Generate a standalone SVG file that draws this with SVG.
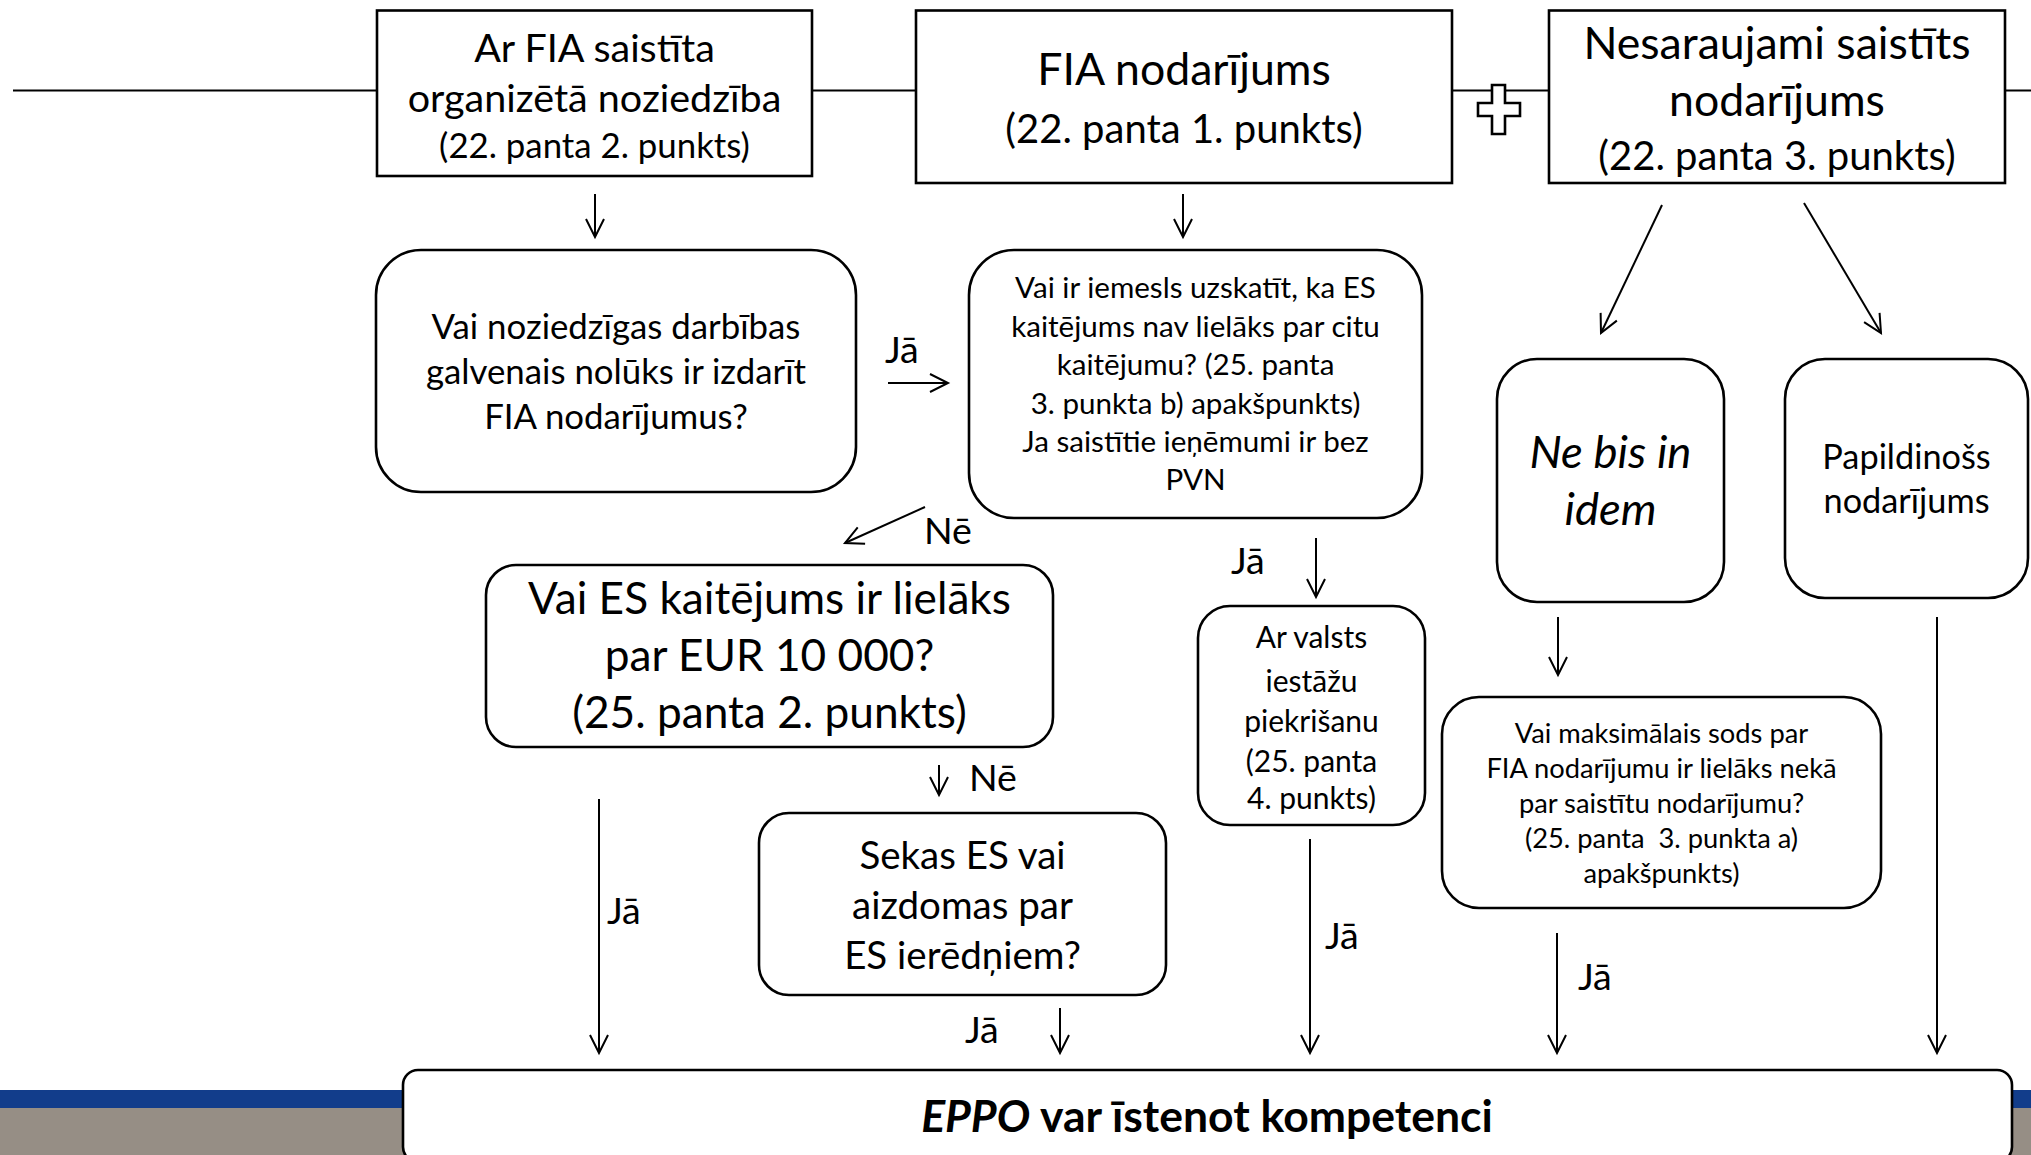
<svg xmlns="http://www.w3.org/2000/svg" width="2031" height="1155" viewBox="0 0 2031 1155">
<style>
.t{font-family:Lato,'Liberation Sans',sans-serif;fill:#000;text-anchor:middle}
.l{font-family:Lato,'Liberation Sans',sans-serif;fill:#000;font-size:37.6px}
.box{fill:#fff;stroke:#000;stroke-width:2.6}
.c{fill:none;stroke:#000;stroke-width:2}
</style>
<defs>
<marker id="ah" markerWidth="24" markerHeight="24" refX="20" refY="12" orient="auto" markerUnits="userSpaceOnUse">
<path d="M2,3 L20,12 L2,21" fill="none" stroke="#000" stroke-width="2"/>
</marker>
</defs>
<rect x="0" y="0" width="2031" height="1155" fill="#fff"/>
<g id="band">
<rect x="0" y="1090" width="2031" height="18" fill="#123d8b"/>
<rect x="0" y="1108" width="2031" height="47" fill="#968e85"/>
</g>
<g id="connectors">
<line class="c" x1="13" y1="90.5" x2="2031" y2="90.5"/>
<line class="c" x1="595" y1="194" x2="595" y2="237" marker-end="url(#ah)"/>
<line class="c" x1="1183" y1="194" x2="1183" y2="237" marker-end="url(#ah)"/>
<line class="c" x1="1662" y1="205" x2="1601" y2="333" marker-end="url(#ah)"/>
<line class="c" x1="1804" y1="203" x2="1881" y2="333" marker-end="url(#ah)"/>
<line class="c" x1="888" y1="383" x2="948" y2="383" marker-end="url(#ah)"/>
<line class="c" x1="925" y1="507" x2="845" y2="543" marker-end="url(#ah)"/>
<line class="c" x1="1316" y1="538" x2="1316" y2="597" marker-end="url(#ah)"/>
<line class="c" x1="939" y1="765" x2="939" y2="795" marker-end="url(#ah)"/>
<line class="c" x1="599" y1="799" x2="599" y2="1053" marker-end="url(#ah)"/>
<line class="c" x1="1060" y1="1008" x2="1060" y2="1053" marker-end="url(#ah)"/>
<line class="c" x1="1310" y1="839" x2="1310" y2="1053" marker-end="url(#ah)"/>
<line class="c" x1="1558" y1="617" x2="1558" y2="675" marker-end="url(#ah)"/>
<line class="c" x1="1557" y1="933" x2="1557" y2="1053" marker-end="url(#ah)"/>
<line class="c" x1="1937" y1="617" x2="1937" y2="1053" marker-end="url(#ah)"/>
<polygon points="1492,85 1505,85 1505,103 1520,103 1520,116 1505,116 1505,134 1492,134 1492,116 1478,116 1478,103 1492,103" fill="#fff" stroke="#000" stroke-width="2.6"/>
<text class="l" x="885" y="363">Jā</text>
<text class="l" x="924" y="544">Nē</text>
<text class="l" x="1231" y="574">Jā</text>
<text class="l" x="969" y="791">Nē</text>
<text class="l" x="607" y="924">Jā</text>
<text class="l" x="965" y="1043">Jā</text>
<text class="l" x="1325" y="949">Jā</text>
<text class="l" x="1578" y="990">Jā</text>
</g>
<g id="n1">
<rect class="box" x="377" y="10.5" width="435" height="165.5"/>
<text class="t" font-size="39.5" x="594.5" y="62">Ar FIA saistīta</text>
<text class="t" font-size="39.5" x="594.5" y="112">organizētā noziedzība</text>
<text class="t" font-size="34.8" x="594.5" y="158">(22. panta 2. punkts)</text>
</g>
<g id="n2">
<rect class="box" x="916" y="10.5" width="536" height="172.5"/>
<text class="t" font-size="44.6" x="1184" y="85">FIA nodarījums</text>
<text class="t" font-size="40" x="1184" y="143">(22. panta 1. punkts)</text>
</g>
<g id="n3">
<rect class="box" x="1549" y="10.5" width="456" height="172.5"/>
<text class="t" font-size="44.6" x="1777" y="59">Nesaraujami saistīts</text>
<text class="t" font-size="44.6" x="1777" y="116">nodarījums</text>
<text class="t" font-size="40" x="1777" y="170">(22. panta 3. punkts)</text>
</g>
<g id="n4">
<rect class="box" x="376" y="250" width="480" height="242" rx="45"/>
<text class="t" font-size="34.8" x="616" y="339">Vai noziedzīgas darbības</text>
<text class="t" font-size="34.8" x="616" y="384">galvenais nolūks ir izdarīt</text>
<text class="t" font-size="34.8" x="616" y="429">FIA nodarījumus?</text>
</g>
<g id="n5">
<rect class="box" x="969" y="250" width="453" height="268" rx="45"/>
<text class="t" font-size="29.6" x="1195.5" y="298">Vai ir iemesls uzskatīt, ka ES</text>
<text class="t" font-size="29.6" x="1195.5" y="337">kaitējums nav lielāks par citu</text>
<text class="t" font-size="29.6" x="1195.5" y="375">kaitējumu? (25. panta</text>
<text class="t" font-size="29.6" x="1195.5" y="414">3. punkta b) apakšpunkts)</text>
<text class="t" font-size="29.6" x="1195.5" y="452">Ja saistītie ieņēmumi ir bez</text>
<text class="t" font-size="29.6" x="1195.5" y="490">PVN</text>
</g>
<g id="n6">
<rect class="box" x="1497" y="359" width="227" height="243" rx="40"/>
<text class="t" font-size="45.5" font-style="italic" x="1610.5" y="468">Ne bis in</text>
<text class="t" font-size="45.5" font-style="italic" x="1610.5" y="525">idem</text>
</g>
<g id="n7">
<rect class="box" x="1785" y="359" width="243" height="239" rx="40"/>
<text class="t" font-size="34.3" x="1906.5" y="469">Papildinošs</text>
<text class="t" font-size="34.3" x="1906.5" y="513">nodarījums</text>
</g>
<g id="n8">
<rect class="box" x="486" y="565" width="567" height="182" rx="30"/>
<text class="t" font-size="44.2" x="769.5" y="614">Vai ES kaitējums ir lielāks</text>
<text class="t" font-size="44.2" x="769.5" y="671">par EUR 10 000?</text>
<text class="t" font-size="44.2" x="769.5" y="728">(25. panta 2. punkts)</text>
</g>
<g id="n9">
<rect class="box" x="1198" y="606" width="227" height="219" rx="32"/>
<text class="t" font-size="30" x="1311.5" y="648">Ar valsts</text>
<text class="t" font-size="30" x="1311.5" y="692">iestāžu</text>
<text class="t" font-size="30" x="1311.5" y="732">piekrišanu</text>
<text class="t" font-size="30" x="1311.5" y="772">(25. panta</text>
<text class="t" font-size="30" x="1311.5" y="809">4. punkts)</text>
</g>
<g id="n10">
<rect class="box" x="1442" y="697" width="439" height="211" rx="37"/>
<text class="t" font-size="27.3" x="1661.5" y="743">Vai maksimālais sods par</text>
<text class="t" font-size="27.3" x="1661.5" y="778">FIA nodarījumu ir lielāks nekā</text>
<text class="t" font-size="27.3" x="1661.5" y="813">par saistītu nodarījumu?</text>
<text class="t" font-size="27.3" x="1661.5" y="848" style="white-space:pre">(25. panta  3. punkta a)</text>
<text class="t" font-size="27.3" x="1661.5" y="883">apakšpunkts)</text>
</g>
<g id="n11">
<rect class="box" x="759" y="813" width="407" height="182" rx="30"/>
<text class="t" font-size="38.5" x="962.5" y="869">Sekas ES vai</text>
<text class="t" font-size="38.5" x="962.5" y="919">aizdomas par</text>
<text class="t" font-size="38.5" x="962.5" y="969">ES ierēdņiem?</text>
</g>
<g id="n12">
<rect class="box" x="403" y="1070" width="1609" height="92" rx="15"/>
<text class="t" font-size="44.5" font-weight="bold" x="1207" y="1132"><tspan font-style="italic">EPPO</tspan> var īstenot kompetenci</text>
</g>
</svg>
